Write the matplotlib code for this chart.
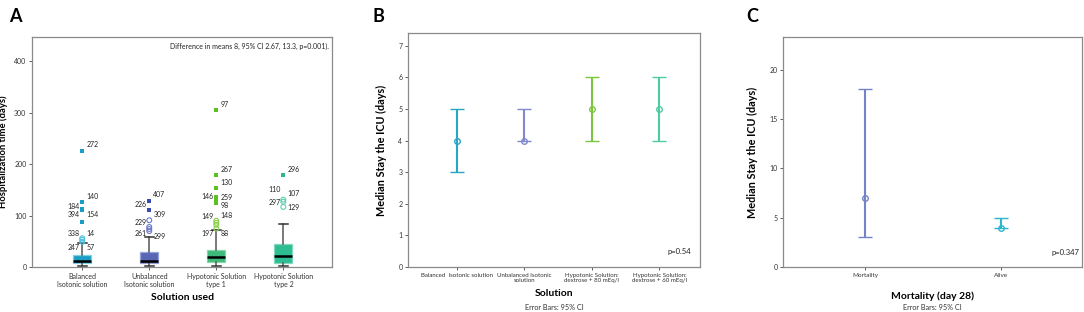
#!/usr/bin/env python3
"""Three-panel figure: hospitalization time box plot (A), median ICU stay by solution (B)
and by 28-day mortality (C)."""
import matplotlib
matplotlib.use("Agg")
import matplotlib.pyplot as plt

plt.rcParams["font.family"] = ["Lato", "DejaVu Sans"]

# ── Panel A data (box plot) ────────────────────────────────────────────────────
a_groups = ["Balanced\nIsotonic solution", "Unbalanced\nIsotonic solution",
            "Hypotonic Solution\ntype 1", "Hypotonic Solution\ntype 2"]
a_q1     = [7, 7, 10, 8.5]
a_med    = [12, 12.5, 19, 21]
a_q3     = [23, 29, 34, 45]
a_whislo = [2, 2, 2, 2]
a_whishi = [46, 59, 72, 83]
# mild outliers (circles) and extreme outliers (stars)
a_mild = [[56, 53, 49], [91, 78, 74, 70], [90, 86, 82, 75], [131, 127, 117]]
a_ext  = [[87, 110, 113, 126, 226], [111, 129], [125, 128, 132, 136, 153, 179, 305], [179]]
# case labels: (id, value, side)
a_labels = [
    [("272", 238, "r"), ("140", 138, "r"), ("184", 118, "l"), ("394", 102, "l"),
     ("154", 102, "r"), ("338", 65, "l"), ("14", 65, "r"), ("247", 39, "l"), ("57", 39, "r")],
    [("407", 141, "r"), ("226", 122, "l"), ("309", 103, "r"), ("229", 87, "l"),
     ("261", 65, "l"), ("299", 60, "r")],
    [("97", 316, "r"), ("267", 190, "r"), ("130", 164, "r"), ("146", 137, "l"),
     ("259", 135, "r"), ("98", 119, "r"), ("149", 98, "l"), ("148", 101, "r"),
     ("197", 65, "l"), ("88", 65, "r")],
    [("296", 190, "r"), ("110", 151, "l"), ("107", 143, "r"), ("297", 126, "l"),
     ("129", 116, "r")],
]
a_fill   = ["#1b9ec4", "#5966b6", "#3dba7a", "#2ebc93"]
a_edge   = ["#7fd0e6", "#98a2d8", "#8ad8a8", "#7fd9bd"]
a_star   = ["#1a9ec6", "#3a4bb0", "#5cc020", "#2ab890"]
a_circle = ["#4fc3df", "#6a78cc", "#8ad04a", "#5ccfae"]

# ── Panel B data (median + 95% CI) ─────────────────────────────────────────────
b_groups = ["Balanced  Isotonic solution", "Unbalanced Isotonic\nsolution",
            "Hypotonic Solution:\ndextrose + 80 mEq/l", "Hypotonic Solution:\ndextrose + 60 mEq/l"]
b_med  = [4, 4, 5, 5]
b_low  = [3, 4, 4, 4]
b_high = [5, 5, 6, 6]
b_colors = ["#27a6c6", "#7f89cc", "#7cc63e", "#4ecba2"]

# ── Panel C data ───────────────────────────────────────────────────────────────
c_groups = ["Mortality", "Alive"]
c_med  = [7, 4]
c_low  = [3, 4]
c_high = [18, 5]
c_colors = ["#7482c8", "#2cb5d0"]

SPINE = "#8a8a8a"
TICK_FS = 5.0


def style_axes(ax, fs=TICK_FS):
    for s in ax.spines.values():
        s.set_color(SPINE)
        s.set_linewidth(0.9)
    ax.tick_params(axis="both", labelsize=fs, length=2.5, width=0.6,
                   color="#444444", labelcolor="#333333", pad=1.5)


fig = plt.figure(figsize=(10.84, 3.12), dpi=100)

# ── A ──────────────────────────────────────────────────────────────────────────
axA = fig.add_axes([0.0295, 0.144, 0.277, 0.737])
stats = []
for i in range(4):
    stats.append(dict(med=a_med[i], q1=a_q1[i], q3=a_q3[i],
                      whislo=a_whislo[i], whishi=a_whishi[i], fliers=[]))
bp = axA.bxp(stats, positions=range(4), widths=0.27, patch_artist=True,
             showfliers=False, capwidths=0.13,
             medianprops=dict(color="black", lw=1.8),
             whiskerprops=dict(color="#555555", lw=1.1),
             capprops=dict(color="#333333", lw=1.1))
for i, b in enumerate(bp["boxes"]):
    b.set_facecolor(a_fill[i])
    b.set_edgecolor(a_edge[i])
    b.set_linewidth(0.9)
for i in range(4):
    axA.scatter([i] * len(a_mild[i]), a_mild[i], s=12, facecolors="none",
                edgecolors=a_circle[i], linewidths=0.8, zorder=3)
    axA.scatter([i] * len(a_ext[i]), a_ext[i], s=6, marker="s",
                color=a_star[i], linewidths=0, zorder=3)
    for lab, v, side in a_labels[i]:
        if side == "r":
            axA.annotate(lab, (i, v), xytext=(3, 0), textcoords="offset points",
                         ha="left", va="center", fontsize=5, color="#222222")
        else:
            axA.annotate(lab, (i, v), xytext=(-2, 0), textcoords="offset points",
                         ha="right", va="center", fontsize=5, color="#222222")
axA.set_xlim(-0.75, 3.73)
axA.set_ylim(0, 447)
axA.set_yticks([0, 100, 200, 300, 400])
axA.set_xticks(range(4))
axA.set_xticklabels(a_groups)
style_axes(axA)
axA.set_ylabel("Hospitalization time (days)", fontsize=6.8, fontweight="bold")
axA.yaxis.set_label_coords(-0.08, 0.5)
axA.set_xlabel("Solution used", fontsize=7.5, fontweight="bold", labelpad=4)
axA.text(0.99, 0.975, "Difference in means 8, 95% CI 2.67, 13.3, p=0.001).",
         transform=axA.transAxes, ha="right", va="top", fontsize=5, color="#222222")
fig.text(0.008, 0.975, "A", fontsize=13, fontweight="bold", va="top")

# ── B ──────────────────────────────────────────────────────────────────────────
axB = fig.add_axes([0.3764, 0.144, 0.2694, 0.75])
for i in range(4):
    axB.errorbar([i], [b_med[i]], yerr=[[b_med[i] - b_low[i]], [b_high[i] - b_med[i]]],
                 fmt="o", color=b_colors[i], ecolor=b_colors[i], elinewidth=1.5,
                 capsize=5, capthick=1.5, ms=4, mfc="none", mew=1.0)
axB.set_xlim(-0.72, 3.6)
axB.set_ylim(0, 7.4)
axB.set_yticks(range(8))
axB.set_xticks(range(4))
axB.set_xticklabels(b_groups)
style_axes(axB)
axB.tick_params(axis="x", labelsize=4.4)
axB.set_ylabel("Median Stay the ICU (days)", fontsize=7.8, fontweight="bold", labelpad=8)
axB.set_xlabel("Solution", fontsize=7.5, fontweight="bold", labelpad=4)
fig.text(0.3764 + 0.2694 / 2, 0.016, "Error Bars: 95% CI", ha="center",
         va="center", fontsize=5.2, color="#333333")
axB.text(0.97, 0.05, "p=0.54", transform=axB.transAxes, ha="right", va="bottom",
         fontsize=5.5, color="#222222")
fig.text(0.344, 0.975, "B", fontsize=13, fontweight="bold", va="top")

# ── C ──────────────────────────────────────────────────────────────────────────
axC = fig.add_axes([0.7223, 0.144, 0.2758, 0.737])
for i in range(2):
    axC.errorbar([i], [c_med[i]], yerr=[[c_med[i] - c_low[i]], [c_high[i] - c_med[i]]],
                 fmt="o", color=c_colors[i], ecolor=c_colors[i], elinewidth=1.5,
                 capsize=5, capthick=1.5, ms=4, mfc="none", mew=1.0)
axC.set_xlim(-0.61, 1.6)
axC.set_ylim(0, 23.3)
axC.set_yticks([0, 5, 10, 15, 20])
axC.set_xticks(range(2))
axC.set_xticklabels(c_groups)
style_axes(axC)
axC.tick_params(axis="x", labelsize=4.6)
axC.set_ylabel("Median Stay the ICU (days)", fontsize=7.8, fontweight="bold", labelpad=8)
axC.set_xlabel("Mortality (day 28)", fontsize=7.5, fontweight="bold", labelpad=10)
fig.text(0.7223 + 0.2758 / 2, 0.016, "Error Bars: 95% CI", ha="center",
         va="center", fontsize=5.2, color="#333333")
axC.text(0.99, 0.05, "p=0.347", transform=axC.transAxes, ha="right", va="bottom",
         fontsize=5.5, color="#222222")
fig.text(0.688, 0.975, "C", fontsize=13, fontweight="bold", va="top")

fig.savefig("out.png", dpi=100)
